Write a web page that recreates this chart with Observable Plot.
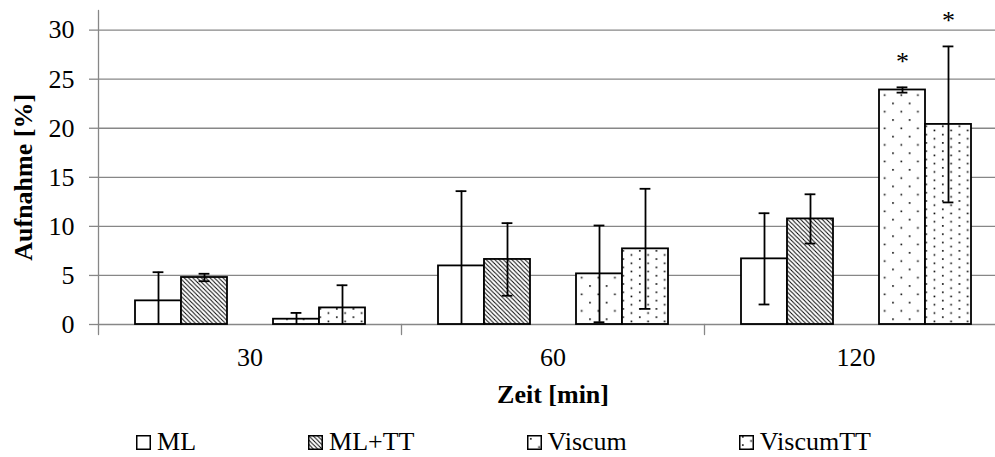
<!DOCTYPE html>
<html>
<head>
<meta charset="utf-8">
<script src="https://cdn.jsdelivr.net/npm/d3@7"></script>
<script src="https://cdn.jsdelivr.net/npm/@observablehq/plot@0.6"></script>
<style>
  body { margin: 0; background: #fff; font-family: "Liberation Serif", "Times New Roman", serif; }
  #legend { display: flex; justify-content: center; gap: 112px; padding-left: 12px; height: 42px; box-sizing: border-box; padding-top: 12px; font-size: 26px; line-height: 30px; color: #000; }
  .item { display: flex; align-items: baseline; white-space: nowrap; }
  .item svg { margin-right: 6px; margin-bottom: 1px; }
</style>
</head>
<body>
<svg width="0" height="0" style="position:absolute">
  <defs>
    <pattern id="p-hatch" patternUnits="userSpaceOnUse" width="4.3" height="4.3">
      <rect width="4.3" height="4.3" fill="#fff"/>
      <path d="M0,0L4.3,4.3M-1.1,3.2L1.1,5.4M3.2,-1.1L5.4,1.1" stroke="#000" stroke-width="0.95"/>
    </pattern>
    <pattern id="p-dot5" patternUnits="userSpaceOnUse" width="16.6" height="16.6">
      <rect width="16.6" height="16.6" fill="#fff"/>
      <rect x="3" y="3" width="1.6" height="1.6" fill="#000"/>
      <rect x="11.3" y="11.3" width="1.6" height="1.6" fill="#000"/>
    </pattern>
    <pattern id="p-dot10" patternUnits="userSpaceOnUse" width="16.6" height="8.3">
      <rect width="16.6" height="8.3" fill="#fff"/>
      <rect x="3" y="1" width="1.6" height="1.6" fill="#000"/>
      <rect x="11.3" y="5.15" width="1.6" height="1.6" fill="#000"/>
    </pattern>
  </defs>
</svg>
<div id="chart"></div>
<div id="legend"></div>
<script>
// ---- data ----
const times = ["30", "60", "120"];
const series = ["ML", "ML+TT", "Viscum", "ViscumTT"];
const mlValues = [2.41, 5.97, 6.69];
const mlErrors = [2.92, 7.62, 4.65];
const mlttValues = [4.79, 6.63, 10.76];
const mlttErrors = [0.38, 3.70, 2.51];
const viscumValues = [0.54, 5.16, 23.90];
const viscumErrors = [0.64, 4.93, 0.27];
const viscumttValues = [1.69, 7.71, 20.39];
const viscumttErrors = [2.31, 6.12, 7.95];
const mlMarks = ["", "", ""];
const mlttMarks = ["", "", ""];
const viscumMarks = ["", "", "*"];
const viscumttMarks = ["", "", "*"];
const yTicks = [0, 5, 10, 15, 20, 25, 30];
const xTitle = "Zeit [min]";
const yTitle = "Aufnahme [%]";

// ---- build table ----
const valueSets = [mlValues, mlttValues, viscumValues, viscumttValues];
const errorSets = [mlErrors, mlttErrors, viscumErrors, viscumttErrors];
const markSets = [mlMarks, mlttMarks, viscumMarks, viscumttMarks];
const rows = series.flatMap((s, i) => times.map((t, j) => {
  const value = valueSets[i][j], err = errorSets[i][j];
  return {time: t, series: s, value, err, low: Math.max(0, value - err), high: value + err, sig: markSets[i][j]};
}));

// slots: Excel leaves one empty slot between the second and third series
const slots = [series[0], series[1], "", series[2], series[3]];
const fills = ["#fff", "url(#p-hatch)", "url(#p-dot5)", "url(#p-dot10)"];
const gray = "#878787";
const ink = "#000";

const W = 995, H = 415, mTop = 10, mBottom = 91;

const chart = Plot.plot({
  width: W,
  height: H,
  marginLeft: 97,
  marginRight: -13,
  marginTop: mTop,
  marginBottom: mBottom,
  style: {fontFamily: "Liberation Serif, Times New Roman, serif", fontSize: "26px", background: "#fff", color: "#000", overflow: "hidden"},
  fx: {domain: times, padding: 0},
  x: {domain: slots, paddingInner: 0, paddingOuter: 0.73, axis: null},
  y: {domain: [0, 32]},
  color: {domain: series, range: fills},
  marks: [
    Plot.ruleY(yTicks, {stroke: gray, strokeWidth: 1.3}),
    Plot.barY(rows, {fx: "time", x: "series", y: "value", fill: "series", stroke: ink, strokeWidth: 1.8}),
    Plot.ruleX(rows, {fx: "time", x: "series", y1: "low", y2: "high", stroke: ink, strokeWidth: 1.8}),
    Plot.tickY(rows, {fx: "time", x: "series", y: "high", insetLeft: 17.6, insetRight: 17.6, stroke: ink, strokeWidth: 1.8}),
    Plot.tickY(rows.filter(d => d.value - d.err > 0), {fx: "time", x: "series", y: "low", insetLeft: 17.6, insetRight: 17.6, stroke: ink, strokeWidth: 1.8}),
    Plot.text(rows.filter(d => d.sig), {fx: "time", x: "series", y: "high", text: "sig", dy: -26, lineAnchor: "middle", fontSize: 26, fill: ink}),
    Plot.axisY({ticks: yTicks, tickSize: 9, tickPadding: 15, stroke: gray, strokeWidth: 1.3, label: null, fill: ink}),
    // y axis line (left edge of the first facet)
    Plot.vector([times[0]], {fx: d => d, frameAnchor: "bottom-left", length: H - mTop - mBottom, rotate: 0, anchor: "start", r: 0, stroke: gray, strokeWidth: 1.3}),
    // category boundary ticks below the axis
    Plot.vector(times, {fx: d => d, frameAnchor: "bottom-left", length: 10, rotate: 180, anchor: "start", r: 0, stroke: gray, strokeWidth: 1.3}),
    Plot.axisFx({anchor: "bottom", tickSize: 0, tickPadding: 23, label: null, fill: ink}),
    Plot.text([yTitle], {fx: () => times[0], y: () => (yTicks[0] + yTicks[yTicks.length - 1]) / 2, frameAnchor: "left", rotate: -90, dx: -75, textAnchor: "middle", lineAnchor: "middle", fontWeight: "bold", text: d => d, fill: ink}),
    Plot.text([xTitle], {fx: () => times[1], frameAnchor: "bottom", dy: 70, textAnchor: "middle", lineAnchor: "middle", fontWeight: "bold", text: d => d, fill: ink})
  ]
});
document.getElementById("chart").appendChild(chart);

// ---- legend ----
const legend = document.getElementById("legend");
series.forEach((s, i) => {
  const item = document.createElement("div");
  item.className = "item";
  item.innerHTML = `<svg width="15" height="15"><rect x="0.75" y="0.75" width="13.5" height="13.5" fill="${fills[i]}" stroke="#000" stroke-width="1.5"/></svg><span>${s}</span>`;
  legend.appendChild(item);
});
</script>
</body>
</html>
